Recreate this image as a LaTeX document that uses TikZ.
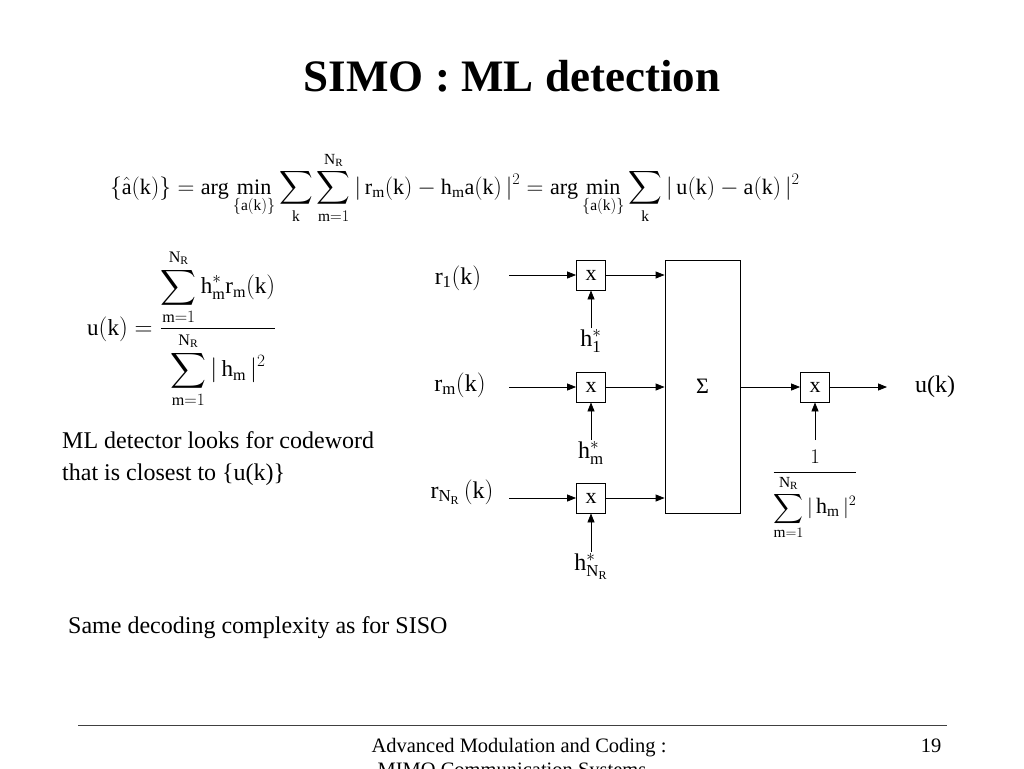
\documentclass[tikz,border=0pt]{standalone}
\usepackage{amsmath}
\usepackage{graphicx}
\usepackage{fontspec}
\setmainfont{Liberation Serif}
\setmathrm{Liberation Serif}
\usetikzlibrary{arrows.meta}
\newcommand\mr[1]{\mathrm{#1}}
\begin{document}
\begin{tikzpicture}[x=1pt,y=-1pt,
  font=\fontsize{24}{28}\selectfont,
  mul/.style={draw, line width=0.8pt, minimum width=29pt, minimum height=30pt, inner sep=0pt, font=\fontsize{22}{26}\selectfont},
  arr/.style={-{Triangle[length=9pt,width=7pt]}, line width=0.8pt},
  lbl/.style={inner sep=1pt}]
\useasboundingbox (0,0) rectangle (1024,768);
% title
\node[font=\fontsize{45}{52}\selectfont\bfseries] (title) at (512,76) {SIMO : ML detection};
% main equation
\node[anchor=base west, inner sep=0pt, font=\fontsize{23.5}{27}\selectfont] (eq) at (110,194) {\scalebox{0.94}{$\displaystyle
 \{\hat{\mr{a}}(\mr{k})\} = \mr{arg}\mathop{\mr{min}}\limits_{\{\mr{a}(\mr{k})\}}
 \sum_{\mr{k}}\sum_{\mr{m}=1}^{\mr{N_R}} |\,\mr{r_m(k)} - \mr{h_m a(k)}\,|^2
 = \mr{arg}\mathop{\mr{min}}\limits_{\{\mr{a}(\mr{k})\}}\sum_{\mr{k}} |\,\mr{u(k)} - \mr{a(k)}\,|^2$}};
% u(k) formula
\node[anchor=base west, inner sep=0pt, font=\fontsize{23}{27}\selectfont] (ueq) at (87,335) {$\mr{u(k)} = \dfrac{\displaystyle\sum_{\mr{m}=1}^{\mr{N_R}} \mr{h_m^* r_m(k)}}{\displaystyle\sum_{\mr{m}=1}^{\mr{N_R}} |\,\mr{h_m}\,|^2}$};
% text
\node[anchor=base west, inner sep=0pt] (t1) at (62,448) {ML detector looks for codeword};
\node[anchor=base west, inner sep=0pt] (t2) at (62,480) {that is closest to \{u(k)\}};
\node[anchor=base west, inner sep=0pt] (t3) at (68,633) {Same decoding complexity as for SISO};
% diagram
\node[mul] (m1) at (591,275) {x};
\node[mul] (m2) at (591,387) {x};
\node[mul] (m3) at (591,498) {x};
\node[draw, line width=0.8pt, minimum width=75pt, minimum height=253pt, inner sep=0pt, font=\fontsize{22}{26}\selectfont] (sum) at (702.5,386.5) {Σ};
\node[mul] (mo) at (815,387) {x};
\node[lbl] (r1) at (458,278) {$\mr{r_1(k)}$};
\node[lbl] (r2) at (460,385) {$\mr{r_m(k)}$};
\node[lbl] (r3) at (462,492) {$\mr{r_{N_R}}\,(\mr{k})$};
\coordinate (in1) at (509,275);
\coordinate (in2) at (509,387);
\coordinate (in3) at (509,498);
\draw[arr] (in1) -- (m1.west);
\draw[arr] (in2) -- (m2.west);
\draw[arr] (in3) -- (m3.west);
\draw[arr] (m1.east) -- (m1.east -| sum.west);
\draw[arr] (m2.east) -- (m2.east -| sum.west);
\draw[arr] (m3.east) -- (m3.east -| sum.west);
\node[lbl, anchor=north] (h1) at (591,328) {$\mr{h_1^*}$};
\node[lbl, anchor=north] (h2) at (591,440) {$\mr{h_m^*}$};
\node[lbl, anchor=north] (h3) at (591,552) {$\mr{h_{N_R}^*}$};
\draw[arr] (h1.north) -- (m1.south);
\draw[arr] (h2.north) -- (m2.south);
\draw[arr] (h3.north) -- (m3.south);
\draw[arr] (sum.east |- mo.west) -- (mo.west);
\coordinate (out) at (887,387);
\draw[arr] (mo.east) -- (out);
\node[lbl] (uk) at (935,387) {u(k)};
\node[lbl, anchor=north, font=\fontsize{22}{26}\selectfont] (frac) at (815,449) {$\dfrac{1}{\displaystyle\sum_{\mr{m}=1}^{\mr{N_R}} |\,\mr{h_m}\,|^2}$};
\coordinate (fin) at (815,440);
\draw[arr] (fin) -- (mo.south);
% footer
\coordinate (fl) at (78,725);
\coordinate (fr) at (947,725);
\draw[line width=1pt, black!75] (fl) -- (fr);
\node[font=\fontsize{20.5}{24}\selectfont, anchor=base] (f1) at (519,752) {Advanced Modulation and Coding :};
\node[font=\fontsize{20.5}{24}\selectfont, anchor=base] (f2) at (512,776) {MIMO Communication Systems};
\node[font=\fontsize{20.5}{24}\selectfont, anchor=base east] (pg) at (945,752) {19};
\end{tikzpicture}
\end{document}
